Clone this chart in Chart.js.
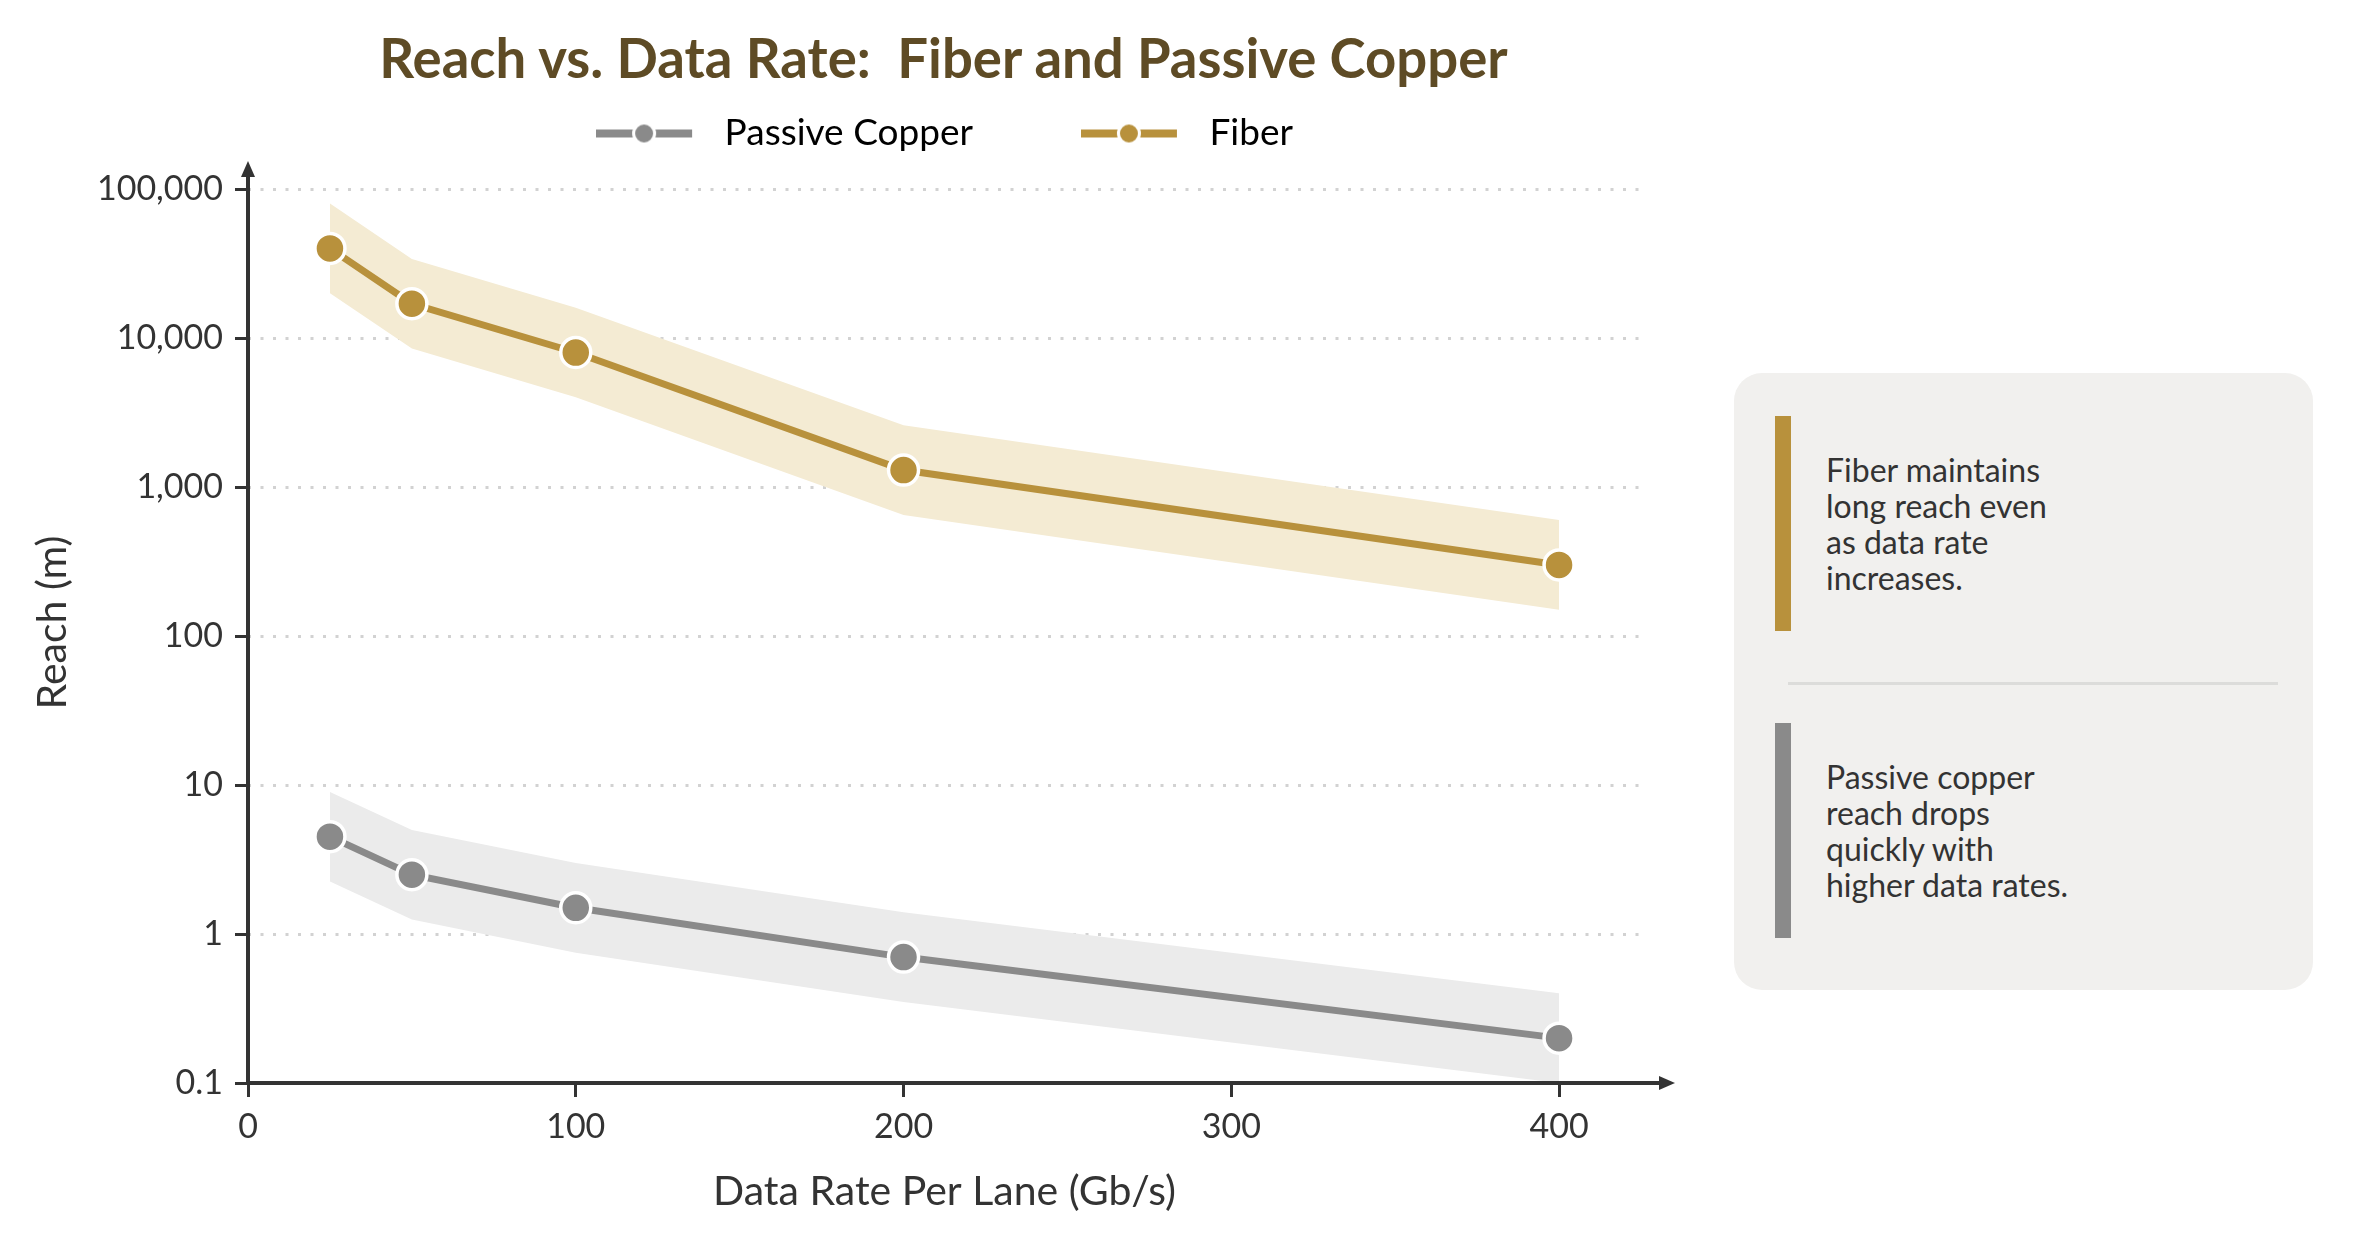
<!DOCTYPE html>
<html>
<head>
<meta charset="utf-8">
<script src="https://cdn.jsdelivr.net/npm/chart.js@4.4.1/dist/chart.umd.min.js"></script>
<style>
  html, body { margin: 0; padding: 0; background: #fff; }
  #wrap { position: relative; width: 2360px; height: 1242px; }
  #title { position: absolute; left: 247px; width: 1393px; top: 25px; text-align: center;
    font: bold 54.5px/1.2 Lato, sans-serif; color: #5e4b25; white-space: pre; }
  #notes { position: absolute; left: 1734px; top: 373px; width: 579px; height: 617px;
    background: #f1f0ee; border-radius: 28px; font-family: Lato, sans-serif; color: #333; }
  .note { position: absolute; left: 41px; display: flex; align-items: center; height: 215px; }
  .bar { width: 16px; height: 100%; }
  .txt { margin-left: 35px; font-size: 32px; line-height: 36px; }
  .rule { position: absolute; left: 54px; width: 490px; top: 309px; height: 3px; background: #dcdcda; }
</style>
</head>
<body>
<div id="wrap">
  <canvas id="mychart"></canvas>
  <div id="title">Reach vs. Data Rate:  Fiber and Passive Copper</div>
  <div id="notes">
    <div class="note" style="top:43px"><div class="bar" style="background:#b8913c"></div>
      <div class="txt">Fiber maintains<br>long reach even<br>as data rate<br>increases.</div></div>
    <div class="rule"></div>
    <div class="note" style="top:350px"><div class="bar" style="background:#8a8a8a"></div>
      <div class="txt">Passive copper<br>reach drops<br>quickly with<br>higher data rates.</div></div>
  </div>
</div>
<script>
// data
const rates = [25, 50, 100, 200, 400]
const fiberReach = [40000, 17000, 8000, 1300, 300]
const fiberHigh = [80000, 34000, 16000, 2600, 600]
const fiberLow = [20000, 8500, 4000, 650, 150]
const copperReach = [4.5, 2.5, 1.5, 0.7, 0.2]
const copperHigh = [9, 5, 3, 1.4, 0.4]
const copperLow = [2.25, 1.25, 0.75, 0.35, 0.1]
const xTicks = [0, 100, 200, 300, 400]
const yTicks = [0.1, 1, 10, 100, 1000, 10000, 100000]

const gold = '#b8913c'
const grey = '#8a8a8a'

function pts(vals){
    return rates.map(function(r, i){ return {x: r, y: vals[i]} })
}

// little line + dot picture for the legend
function legendIcon(color){
    const c = document.createElement('canvas')
    c.width = 110
    c.height = 26
    const g = c.getContext('2d')
    g.strokeStyle = color
    g.lineWidth = 8
    g.beginPath()
    g.moveTo(0, 13)
    g.lineTo(96, 13)
    g.stroke()
    g.beginPath()
    g.arc(48, 13, 10.5, 0, Math.PI * 2)
    g.fillStyle = color
    g.fill()
    g.lineWidth = 3
    g.strokeStyle = '#fff'
    g.stroke()
    return c
}
const copperIcon = legendIcon(grey)
const fiberIcon = legendIcon(gold)

// axis lines with arrow heads
const arrowAxes = {
    id: 'arrowAxes',
    afterDatasetsDraw(chart){
        const ctx = chart.ctx
        const a = chart.chartArea
        ctx.save()
        ctx.strokeStyle = '#333'
        ctx.fillStyle = '#333'
        ctx.lineWidth = 4
        ctx.beginPath()
        ctx.moveTo(a.left, a.bottom + 2)
        ctx.lineTo(a.left, a.top + 12)
        ctx.moveTo(a.left - 2, a.bottom)
        ctx.lineTo(a.right + 20, a.bottom)
        ctx.stroke()
        ctx.beginPath()
        ctx.moveTo(a.left, a.top - 1)
        ctx.lineTo(a.left - 7, a.top + 15)
        ctx.lineTo(a.left + 7, a.top + 15)
        ctx.closePath()
        ctx.fill()
        ctx.beginPath()
        ctx.moveTo(a.right + 34, a.bottom)
        ctx.lineTo(a.right + 18, a.bottom - 7)
        ctx.lineTo(a.right + 18, a.bottom + 7)
        ctx.closePath()
        ctx.fill()
        ctx.restore()
    }
}

function lineSet(label, vals, color){
    return {
        label: label,
        data: pts(vals),
        borderColor: color,
        backgroundColor: color,
        borderWidth: 7,
        pointRadius: 15,
        pointBorderWidth: 3.5,
        pointBorderColor: '#fff',
        pointBackgroundColor: color,
        fill: false,
        order: 1
    }
}
function bandSet(vals, fillTo, color){
    return {
        data: pts(vals),
        borderWidth: 0,
        pointRadius: 0,
        backgroundColor: color,
        fill: fillTo,
        order: 2
    }
}

Chart.defaults.font.family = 'Lato'
Chart.defaults.color = '#333'

new Chart(document.getElementById('mychart'), {
    type: 'line',
    data: {
        datasets: [
            lineSet('Passive Copper', copperReach, grey),
            lineSet('Fiber', fiberReach, gold),
            bandSet(fiberLow, false, '#f4ebd3'),
            bandSet(fiberHigh, '-1', '#f4ebd3'),
            bandSet(copperLow, false, '#ebebeb'),
            bandSet(copperHigh, '-1', '#ebebeb')
        ]
    },
    options: {
        responsive: true,
        maintainAspectRatio: false,
        animation: false,
        devicePixelRatio: 1,
        layout: { padding: { top: 7, left: 20, right: 719, bottom: 0 } },
        plugins: {
            tooltip: { enabled: false },
            title: { display: false },
            legend: {
                position: 'top',
                fullSize: false,
                labels: {
                    usePointStyle: true,
                    pointStyleWidth: 110,
                    boxHeight: 26,
                    padding: 108,
                    color: '#333',
                    font: { size: 37 },
                    generateLabels: function(chart){
                        return [
                            { text: 'Passive Copper', pointStyle: copperIcon, fillStyle: grey, strokeStyle: grey, lineWidth: 0, datasetIndex: 0, hidden: false },
                            { text: 'Fiber', pointStyle: fiberIcon, fillStyle: gold, strokeStyle: gold, lineWidth: 0, datasetIndex: 1, hidden: false }
                        ]
                    }
                }
            }
        },
        scales: {
            x: {
                type: 'linear',
                min: 0,
                max: 425,
                afterBuildTicks: function(scale){ scale.ticks = xTicks.map(function(v){ return {value: v} }) },
                afterFit: function(scale){ scale.height = 159 },
                border: { display: false },
                grid: { drawOnChartArea: false, drawTicks: true, tickLength: 14, tickColor: '#333', tickWidth: 3 },
                ticks: { font: { size: 34 }, color: '#333', padding: 10 },
                title: { display: true, text: 'Data Rate Per Lane (Gb/s)', font: { size: 41 }, color: '#333', padding: { top: 0, bottom: 26 } }
            },
            y: {
                type: 'logarithmic',
                min: 0.1,
                max: 152000,
                afterBuildTicks: function(scale){ scale.ticks = yTicks.map(function(v){ return {value: v} }) },
                afterFit: function(scale){ scale.width = 228 },
                border: { display: false, dash: [3, 9.5] },
                grid: { color: '#d2d2d2', lineWidth: 3, tickLength: 13, tickColor: '#333', tickWidth: 3, tickBorderDash: [] },
                ticks: {
                    font: { size: 34 }, color: '#333', padding: 12, autoSkip: false,
                    callback: function(v){ return Number(v).toLocaleString('en-US') }
                },
                title: { display: true, text: 'Reach (m)', font: { size: 41 }, color: '#333', padding: { top: 8, bottom: 0 } }
            }
        }
    },
    plugins: [arrowAxes]
})
</script>
</body>
</html>
